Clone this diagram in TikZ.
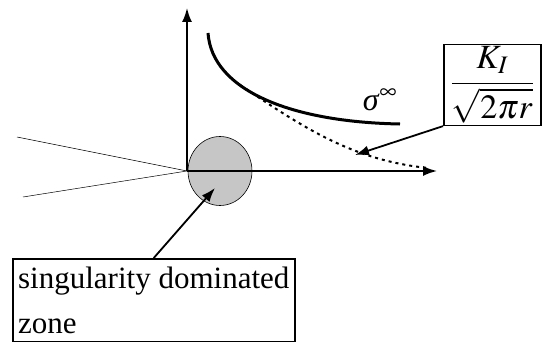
\documentclass[tikz,border=0pt]{standalone}
\usepackage{mathptmx}
\usepackage{fontspec}
\setmainfont{Liberation Serif}
\usetikzlibrary{arrows.meta,shapes.geometric}
\begin{document}
\begin{tikzpicture}[x=1pt, y=-1pt, line width=1.8pt, >={Latex[length=14pt,width=10pt]}]
    \useasboundingbox (0,0) rectangle (543,345);
    % Coordinate
    \coordinate (O) at (187,171);
    \coordinate (Xend) at (437,171);
    \coordinate (Yend) at (187,8);
    \coordinate (Zend) at (215,188);
    \coordinate (Kend) at (355,155);
    % Zone
    \node [ellipse, draw, line width=0.6pt, fill=gray!45, minimum width=64pt, minimum height=69pt, inner sep=0pt] (zone) at (220,171) {};
    % Linee
    \draw [line width=0.5pt] (17,137) -- (O) -- (23,197); % crack faces
    \draw [->] (O) -- (Xend); % asse x
    \draw [->] (O) -- (Yend); % asse y
    \draw [line width=3pt] (208,33) .. controls (212,90) and (290,122) .. (400,124); % far field
    \draw [line width=2pt, dash pattern=on 3pt off 4pt] (240,85) .. controls (300,125) and (350,160) .. (428,168); % singular term
    % Writing space
    \node [font=\fontsize{32}{34}\selectfont] (sigma) at (380,100) {\textit{σ}$^{\infty}$};
    \node [draw, anchor=north west, line width=1.5pt, inner xsep=7pt, inner ysep=2pt, font=\fontsize{34}{36}\selectfont] (fracbox) at (443,44) {$\displaystyle\frac{K_I}{\sqrt{2\pi r}}$};
    \node [draw, anchor=north west, line width=1.5pt, minimum width=282pt, align=left, inner xsep=2pt, inner ysep=8pt, font=\fontsize{31}{37}\selectfont] (zonebox) at (12,258) {singularity dominated\\[8pt]zone};
    % Arrows
    \draw [->] (fracbox.south west) -- (Kend);
    \draw [->] (zonebox.north) -- (Zend);
\end{tikzpicture}
\end{document}
